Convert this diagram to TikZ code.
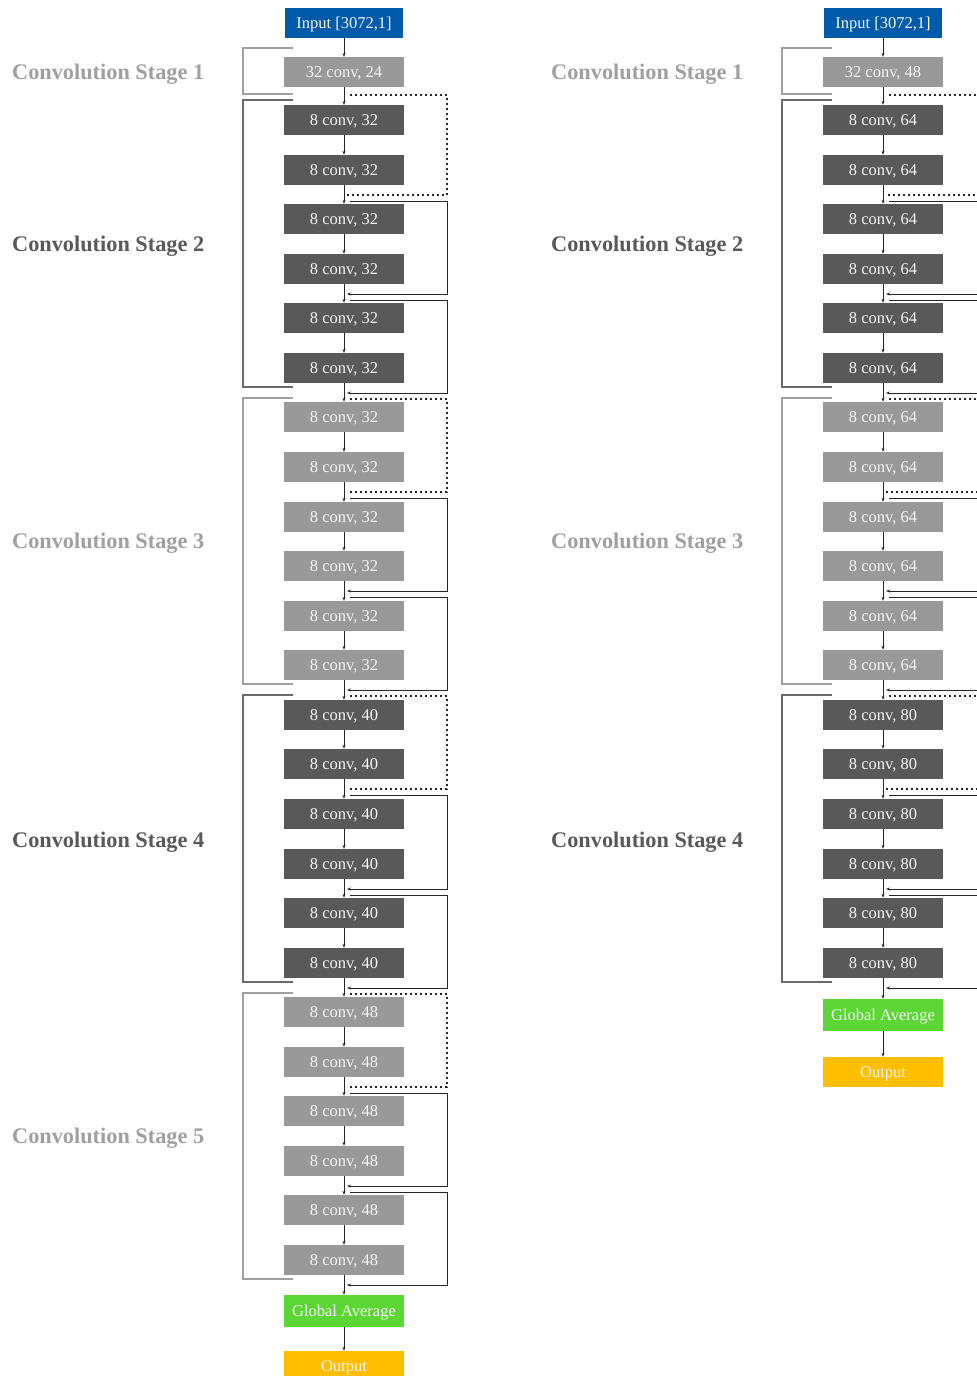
\documentclass[tikz,border=0pt]{standalone}
\usepackage{fontspec}
\setmainfont{Liberation Serif}
\usepackage{color}
\usepackage{tikz}
\usetikzlibrary{arrows.meta}
\definecolor{inblue}{RGB}{0,90,170}
\definecolor{convdark}{RGB}{89,89,89}
\definecolor{convlight}{RGB}{153,153,153}
\definecolor{avggreen}{RGB}{92,214,52}
\definecolor{outgold}{RGB}{255,190,0}
\definecolor{stagelight}{RGB}{160,160,160}
\definecolor{stagedark}{RGB}{89,89,89}
\tikzstyle{block}=[rectangle, minimum width=120pt, minimum height=30pt, inner sep=0pt, text depth=0pt, text=white!96!black, font=\fontsize{16.5}{18}\selectfont]
\tikzstyle{conv_dark}=[block, fill=convdark]
\tikzstyle{conv_light}=[block, fill=convlight]
\tikzstyle{input_block}=[block, fill=inblue, minimum width=118pt]
\tikzstyle{avg_block}=[block, fill=avggreen, minimum height=32pt]
\tikzstyle{out_block}=[block, fill=outgold]
\tikzstyle{flow}=[-{Stealth[length=4pt,width=3pt]}, line width=0.8pt, black!85]
\tikzstyle{skip_solid}=[flow, line width=0.9pt]
\tikzstyle{skip_dotted}=[line width=1.6pt, black!85, dash pattern=on 1.6pt off 3.4pt]
\tikzstyle{bracket_dark}=[line width=1.8pt, stagedark!90]
\tikzstyle{bracket_light}=[line width=1.8pt, stagelight]
\tikzstyle{stage_dark}=[anchor=west, inner sep=0pt, text depth=0pt, text=stagedark, font=\fontsize{22.3}{24}\selectfont\bfseries]
\tikzstyle{stage_light}=[stage_dark, text=stagelight]

\begin{document}
\begin{tikzpicture}[x=1pt,y=-1pt]
\useasboundingbox (0,0) rectangle (977,1376);
\clip (0,0) rectangle (977,1376);
\coordinate (edgeL) at (447,0);
\coordinate (edgeR) at (987,0);

\node[stage_light] (labL1) at (12,72) {Convolution Stage 1};
\node[stage_dark] (labL2) at (12,244) {Convolution Stage 2};
\node[stage_light] (labL3) at (12,541) {Convolution Stage 3};
\node[stage_dark] (labL4) at (12,840) {Convolution Stage 4};
\node[stage_light] (labL5) at (12,1136) {Convolution Stage 5};
\draw[bracket_light] (293,48) -- (243,48) -- (243,94) -- (293,94);
\draw[bracket_dark] (293,100) -- (243,100) -- (243,387) -- (293,387);
\draw[bracket_light] (293,398) -- (243,398) -- (243,684) -- (293,684);
\draw[bracket_dark] (293,695) -- (243,695) -- (243,982) -- (293,982);
\draw[bracket_light] (293,993) -- (243,993) -- (243,1279) -- (293,1279);

\node[input_block] (inL) at (344,22.5){Input [3072,1]};
\node[conv_light] (stemL) at (344,72){32 conv, 24};
\draw[flow](inL) -- (stemL);
\node[conv_dark] (L0) at (344,120){8 conv, 32};
\node[conv_dark] (L1) at (344,170){8 conv, 32};
\node[conv_dark] (L2) at (344,219){8 conv, 32};
\node[conv_dark] (L3) at (344,269){8 conv, 32};
\node[conv_dark] (L4) at (344,318){8 conv, 32};
\node[conv_dark] (L5) at (344,368){8 conv, 32};
\node[conv_light] (L6) at (344,417){8 conv, 32};
\node[conv_light] (L7) at (344,467){8 conv, 32};
\node[conv_light] (L8) at (344,517){8 conv, 32};
\node[conv_light] (L9) at (344,566){8 conv, 32};
\node[conv_light] (L10) at (344,616){8 conv, 32};
\node[conv_light] (L11) at (344,665){8 conv, 32};
\node[conv_dark] (L12) at (344,715){8 conv, 40};
\node[conv_dark] (L13) at (344,764){8 conv, 40};
\node[conv_dark] (L14) at (344,814){8 conv, 40};
\node[conv_dark] (L15) at (344,864){8 conv, 40};
\node[conv_dark] (L16) at (344,913){8 conv, 40};
\node[conv_dark] (L17) at (344,963){8 conv, 40};
\node[conv_light] (L18) at (344,1012){8 conv, 48};
\node[conv_light] (L19) at (344,1062){8 conv, 48};
\node[conv_light] (L20) at (344,1111){8 conv, 48};
\node[conv_light] (L21) at (344,1161){8 conv, 48};
\node[conv_light] (L22) at (344,1210){8 conv, 48};
\node[conv_light] (L23) at (344,1260){8 conv, 48};
\node[avg_block] (avgL) at (344,1311){Global Average};
\node[out_block] (outL) at (344,1366){Output};
\draw[flow](stemL) -- (L0);
\draw[flow](L0) -- (L1);
\draw[flow](L1) -- (L2);
\draw[flow](L2) -- (L3);
\draw[flow](L3) -- (L4);
\draw[flow](L4) -- (L5);
\draw[flow](L5) -- (L6);
\draw[flow](L6) -- (L7);
\draw[flow](L7) -- (L8);
\draw[flow](L8) -- (L9);
\draw[flow](L9) -- (L10);
\draw[flow](L10) -- (L11);
\draw[flow](L11) -- (L12);
\draw[flow](L12) -- (L13);
\draw[flow](L13) -- (L14);
\draw[flow](L14) -- (L15);
\draw[flow](L15) -- (L16);
\draw[flow](L16) -- (L17);
\draw[flow](L17) -- (L18);
\draw[flow](L18) -- (L19);
\draw[flow](L19) -- (L20);
\draw[flow](L20) -- (L21);
\draw[flow](L21) -- (L22);
\draw[flow](L22) -- (L23);
\draw[flow](L23) -- (avgL);
\draw[flow](avgL) -- (outL);

\coordinate (oLs) at (350,95);
\coordinate (iL1) at (347,195);
\coordinate (oL1) at (350,201);
\coordinate (iL3) at (347,294);
\coordinate (oL3) at (350,300);
\coordinate (iL5) at (347,393);
\coordinate (oL5) at (350,399);
\coordinate (iL7) at (347,492);
\coordinate (oL7) at (350,498);
\coordinate (iL9) at (347,591);
\coordinate (oL9) at (350,597);
\coordinate (iL11) at (347,690);
\coordinate (oL11) at (350,696);
\coordinate (iL13) at (347,789);
\coordinate (oL13) at (350,795);
\coordinate (iL15) at (347,889);
\coordinate (oL15) at (350,895);
\coordinate (iL17) at (347,988);
\coordinate (oL17) at (350,994);
\coordinate (iL19) at (347,1087);
\coordinate (oL19) at (350,1093);
\coordinate (iL21) at (347,1186);
\coordinate (oL21) at (350,1192);
\coordinate (iL23) at (347,1285);
\draw[skip_dotted](oLs) -- (oLs -| edgeL) |- (iL1);
\draw[skip_solid](oL1) -- (oL1 -| edgeL) |- (iL3);
\draw[skip_solid](oL3) -- (oL3 -| edgeL) |- (iL5);
\draw[skip_dotted](oL5) -- (oL5 -| edgeL) |- (iL7);
\draw[skip_solid](oL7) -- (oL7 -| edgeL) |- (iL9);
\draw[skip_solid](oL9) -- (oL9 -| edgeL) |- (iL11);
\draw[skip_dotted](oL11) -- (oL11 -| edgeL) |- (iL13);
\draw[skip_solid](oL13) -- (oL13 -| edgeL) |- (iL15);
\draw[skip_solid](oL15) -- (oL15 -| edgeL) |- (iL17);
\draw[skip_dotted](oL17) -- (oL17 -| edgeL) |- (iL19);
\draw[skip_solid](oL19) -- (oL19 -| edgeL) |- (iL21);
\draw[skip_solid](oL21) -- (oL21 -| edgeL) |- (iL23);

\node[stage_light] (labR1) at (551,72) {Convolution Stage 1};
\node[stage_dark] (labR2) at (551,244) {Convolution Stage 2};
\node[stage_light] (labR3) at (551,541) {Convolution Stage 3};
\node[stage_dark] (labR4) at (551,840) {Convolution Stage 4};
\draw[bracket_light] (832,48) -- (782,48) -- (782,94) -- (832,94);
\draw[bracket_dark] (832,100) -- (782,100) -- (782,387) -- (832,387);
\draw[bracket_light] (832,398) -- (782,398) -- (782,684) -- (832,684);
\draw[bracket_dark] (832,695) -- (782,695) -- (782,982) -- (832,982);

\node[input_block] (inR) at (883,22.5){Input [3072,1]};
\node[conv_light] (stemR) at (883,72){32 conv, 48};
\draw[flow](inR) -- (stemR);
\node[conv_dark] (R0) at (883,120){8 conv, 64};
\node[conv_dark] (R1) at (883,170){8 conv, 64};
\node[conv_dark] (R2) at (883,219){8 conv, 64};
\node[conv_dark] (R3) at (883,269){8 conv, 64};
\node[conv_dark] (R4) at (883,318){8 conv, 64};
\node[conv_dark] (R5) at (883,368){8 conv, 64};
\node[conv_light] (R6) at (883,417){8 conv, 64};
\node[conv_light] (R7) at (883,467){8 conv, 64};
\node[conv_light] (R8) at (883,517){8 conv, 64};
\node[conv_light] (R9) at (883,566){8 conv, 64};
\node[conv_light] (R10) at (883,616){8 conv, 64};
\node[conv_light] (R11) at (883,665){8 conv, 64};
\node[conv_dark] (R12) at (883,715){8 conv, 80};
\node[conv_dark] (R13) at (883,764){8 conv, 80};
\node[conv_dark] (R14) at (883,814){8 conv, 80};
\node[conv_dark] (R15) at (883,864){8 conv, 80};
\node[conv_dark] (R16) at (883,913){8 conv, 80};
\node[conv_dark] (R17) at (883,963){8 conv, 80};
\node[avg_block] (avgR) at (883,1015){Global Average};
\node[out_block] (outR) at (883,1072){Output};
\draw[flow](stemR) -- (R0);
\draw[flow](R0) -- (R1);
\draw[flow](R1) -- (R2);
\draw[flow](R2) -- (R3);
\draw[flow](R3) -- (R4);
\draw[flow](R4) -- (R5);
\draw[flow](R5) -- (R6);
\draw[flow](R6) -- (R7);
\draw[flow](R7) -- (R8);
\draw[flow](R8) -- (R9);
\draw[flow](R9) -- (R10);
\draw[flow](R10) -- (R11);
\draw[flow](R11) -- (R12);
\draw[flow](R12) -- (R13);
\draw[flow](R13) -- (R14);
\draw[flow](R14) -- (R15);
\draw[flow](R15) -- (R16);
\draw[flow](R16) -- (R17);
\draw[flow](R17) -- (avgR);
\draw[flow](avgR) -- (outR);

\coordinate (oRs) at (889,95);
\coordinate (iR1) at (886,195);
\coordinate (oR1) at (889,201);
\coordinate (iR3) at (886,294);
\coordinate (oR3) at (889,300);
\coordinate (iR5) at (886,393);
\coordinate (oR5) at (889,399);
\coordinate (iR7) at (886,492);
\coordinate (oR7) at (889,498);
\coordinate (iR9) at (886,591);
\coordinate (oR9) at (889,597);
\coordinate (iR11) at (886,690);
\coordinate (oR11) at (889,696);
\coordinate (iR13) at (886,789);
\coordinate (oR13) at (889,795);
\coordinate (iR15) at (886,889);
\coordinate (oR15) at (889,895);
\coordinate (iR17) at (886,988);
\draw[skip_dotted](oRs) -- (oRs -| edgeR) |- (iR1);
\draw[skip_solid](oR1) -- (oR1 -| edgeR) |- (iR3);
\draw[skip_solid](oR3) -- (oR3 -| edgeR) |- (iR5);
\draw[skip_dotted](oR5) -- (oR5 -| edgeR) |- (iR7);
\draw[skip_solid](oR7) -- (oR7 -| edgeR) |- (iR9);
\draw[skip_solid](oR9) -- (oR9 -| edgeR) |- (iR11);
\draw[skip_dotted](oR11) -- (oR11 -| edgeR) |- (iR13);
\draw[skip_solid](oR13) -- (oR13 -| edgeR) |- (iR15);
\draw[skip_solid](oR15) -- (oR15 -| edgeR) |- (iR17);
\end{tikzpicture}
\end{document}
